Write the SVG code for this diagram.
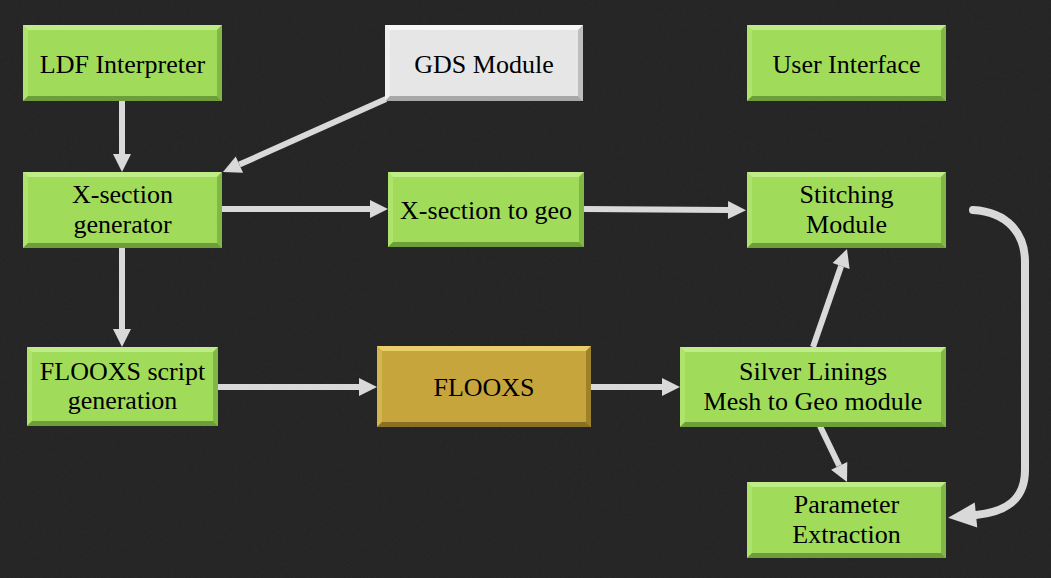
<svg xmlns="http://www.w3.org/2000/svg" width="1051" height="578" viewBox="0 0 1051 578">
<defs>
<style>
.node text{font-family:"Liberation Serif","Times New Roman",serif;font-size:26px;fill:#000;text-anchor:middle}
.green .face{fill:#A0DC5A}
.green .t{fill:#C0EC88}
.green .l{fill:#AEE46C}
.green .r{fill:#80B846}
.green .b{fill:#6E9E3A}
.gold .face{fill:#C6A63C}
.gold .t{fill:#EACF68}
.gold .l{fill:#D5B64E}
.gold .r{fill:#9E822A}
.gold .b{fill:#8A7024}
.grey .face{fill:#E6E6E6}
.grey .t{fill:#F7F7F7}
.grey .l{fill:#EFEFEF}
.grey .r{fill:#BEBEBE}
.grey .b{fill:#A8A8A8}
.conn path{fill:none;stroke:#D9D9D9;stroke-width:6}
.conn path.big{stroke-width:8;stroke-linecap:round}
</style>
<marker id="ah" markerUnits="userSpaceOnUse" markerWidth="20" markerHeight="20" refX="0" refY="9" orient="auto" overflow="visible">
<path d="M0,0 L18,9 L0,18 z" fill="#D9D9D9"/>
</marker>
<marker id="ahbig" markerUnits="userSpaceOnUse" markerWidth="30" markerHeight="27" refX="0" refY="12.5" orient="auto" overflow="visible">
<path d="M0,0 L28,12.5 L0,25 z" fill="#D9D9D9"/>
</marker>
<filter id="noise" x="0" y="0" width="100%" height="100%">
<feTurbulence type="fractalNoise" baseFrequency="0.9" numOctaves="2" seed="3" result="n"/>
<feColorMatrix type="matrix" values="0 0 0 0 1  0 0 0 0 1  0 0 0 0 1  0.5 0 0 0 -0.22"/>
</filter>
</defs>
<rect width="1051" height="578" fill="#252525"/>
<rect width="1051" height="578" filter="url(#noise)" opacity="0.12"/>

<g id="connectors" class="conn">
<path d="M122,101 L122,154" marker-end="url(#ah)"/>
<path d="M386,99 L239.4,164.6" marker-end="url(#ah)"/>
<path d="M219,209 L370,209" marker-end="url(#ah)"/>
<path d="M584,209 L728,210" marker-end="url(#ah)"/>
<path d="M122,248 L122,329" marker-end="url(#ah)"/>
<path d="M218,387 L359,387" marker-end="url(#ah)"/>
<path d="M591,387 L662,387" marker-end="url(#ah)"/>
<path d="M813,347 L841.1,266" marker-end="url(#ah)"/>
<path d="M820,426 L839.2,465.8" marker-end="url(#ah)"/>
<path class="big" d="M973,210 C1008,212 1025,234 1025,262 L1025,470 C1025,500 1006,512 976,515" marker-end="url(#ahbig)"/>
</g>

<g id="nodes">
<g id="ldf-interpreter" class="node green" transform="translate(23,25)">
<rect class="face" width="199" height="76"/>
<polygon class="t" points="0,0 199,0 194,5 5,5"/>
<polygon class="l" points="0,0 5,5 5,71 0,76"/>
<polygon class="r" points="199,0 199,76 194,71 194,5"/>
<polygon class="b" points="0,76 5,71 194,71 199,76"/>
<text x="99.5" y="48">LDF Interpreter</text>
</g>

<g id="gds-module" class="node grey" transform="translate(385,25)">
<rect class="face" width="198" height="76"/>
<polygon class="t" points="0,0 198,0 193,5 5,5"/>
<polygon class="l" points="0,0 5,5 5,71 0,76"/>
<polygon class="r" points="198,0 198,76 193,71 193,5"/>
<polygon class="b" points="0,76 5,71 193,71 198,76"/>
<text x="99" y="48">GDS Module</text>
</g>

<g id="user-interface" class="node green" transform="translate(747,25)">
<rect class="face" width="199" height="76"/>
<polygon class="t" points="0,0 199,0 194,5 5,5"/>
<polygon class="l" points="0,0 5,5 5,71 0,76"/>
<polygon class="r" points="199,0 199,76 194,71 194,5"/>
<polygon class="b" points="0,76 5,71 194,71 199,76"/>
<text x="99.5" y="48">User Interface</text>
</g>

<g id="xsection-generator" class="node green" transform="translate(23,172)">
<rect class="face" width="199" height="76"/>
<polygon class="t" points="0,0 199,0 194,5 5,5"/>
<polygon class="l" points="0,0 5,5 5,71 0,76"/>
<polygon class="r" points="199,0 199,76 194,71 194,5"/>
<polygon class="b" points="0,76 5,71 194,71 199,76"/>
<text x="99.5" y="31">X-section</text>
<text x="99.5" y="61">generator</text>
</g>

<g id="xsection-to-geo" class="node green" transform="translate(388,172)">
<rect class="face" width="196" height="75"/>
<polygon class="t" points="0,0 196,0 191,5 5,5"/>
<polygon class="l" points="0,0 5,5 5,70 0,75"/>
<polygon class="r" points="196,0 196,75 191,70 191,5"/>
<polygon class="b" points="0,75 5,70 191,70 196,75"/>
<text x="98" y="47">X-section to geo</text>
</g>

<g id="stitching-module" class="node green" transform="translate(747,172)">
<rect class="face" width="199" height="76"/>
<polygon class="t" points="0,0 199,0 194,5 5,5"/>
<polygon class="l" points="0,0 5,5 5,71 0,76"/>
<polygon class="r" points="199,0 199,76 194,71 194,5"/>
<polygon class="b" points="0,76 5,71 194,71 199,76"/>
<text x="99.5" y="31">Stitching</text>
<text x="99.5" y="61">Module</text>
</g>

<g id="flooxs-script-generation" class="node green" transform="translate(27,347)">
<rect class="face" width="191" height="79"/>
<polygon class="t" points="0,0 191,0 186,5 5,5"/>
<polygon class="l" points="0,0 5,5 5,74 0,79"/>
<polygon class="r" points="191,0 191,79 186,74 186,5"/>
<polygon class="b" points="0,79 5,74 186,74 191,79"/>
<text x="95.5" y="33">FLOOXS script</text>
<text x="95.5" y="62">generation</text>
</g>

<g id="flooxs" class="node gold" transform="translate(377,346)">
<rect class="face" width="214" height="81"/>
<polygon class="t" points="0,0 214,0 209,5 5,5"/>
<polygon class="l" points="0,0 5,5 5,76 0,81"/>
<polygon class="r" points="214,0 214,81 209,76 209,5"/>
<polygon class="b" points="0,81 5,76 209,76 214,81"/>
<text x="107" y="49.5">FLOOXS</text>
</g>

<g id="silver-linings" class="node green" transform="translate(680,347)">
<rect class="face" width="266" height="80"/>
<polygon class="t" points="0,0 266,0 261,5 5,5"/>
<polygon class="l" points="0,0 5,5 5,75 0,80"/>
<polygon class="r" points="266,0 266,80 261,75 261,5"/>
<polygon class="b" points="0,80 5,75 261,75 266,80"/>
<text x="133" y="33">Silver Linings</text>
<text x="133" y="63">Mesh to Geo module</text>
</g>

<g id="parameter-extraction" class="node green" transform="translate(747,482)">
<rect class="face" width="199" height="76"/>
<polygon class="t" points="0,0 199,0 194,5 5,5"/>
<polygon class="l" points="0,0 5,5 5,71 0,76"/>
<polygon class="r" points="199,0 199,76 194,71 194,5"/>
<polygon class="b" points="0,76 5,71 194,71 199,76"/>
<text x="99.5" y="31">Parameter</text>
<text x="99.5" y="61">Extraction</text>
</g>
</g>
</svg>
